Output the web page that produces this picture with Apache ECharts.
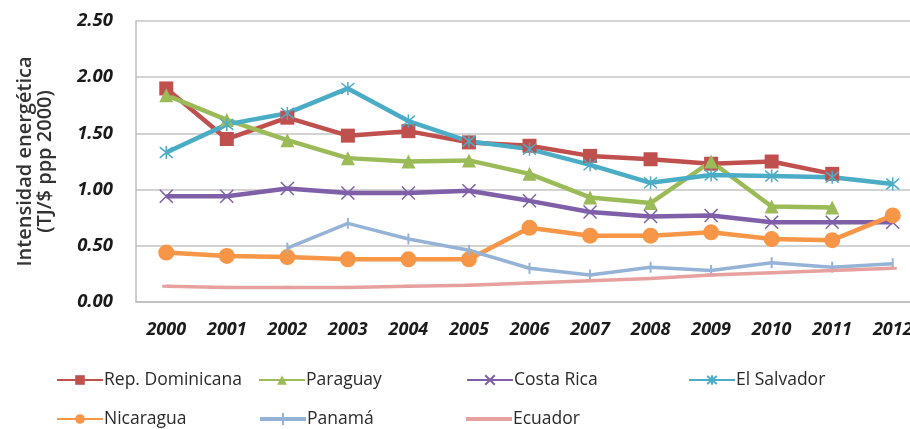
<!DOCTYPE html>
<html><head><meta charset="utf-8">
<script src="https://cdn.jsdelivr.net/npm/echarts@6/dist/echarts.min.js"></script>
<style>html,body{margin:0;padding:0;background:#fff}#c{width:910px;height:429px}</style>
</head><body><div id="c"></div>
<script>
const years = ['2000','2001','2002','2003','2004','2005','2006','2007','2008','2009','2010','2011','2012'];
const yTicks = [0, 0.5, 1, 1.5, 2, 2.5];
const repDominicana = [1.90,1.45,1.64,1.48,1.52,1.42,1.39,1.30,1.27,1.23,1.25,1.14,null];
const paraguay      = [1.84,1.62,1.44,1.28,1.25,1.26,1.14,0.93,0.88,1.25,0.85,0.84,null];
const costaRica     = [0.94,0.94,1.01,0.97,0.97,0.99,0.90,0.80,0.76,0.77,0.71,0.71,0.71];
const elSalvador    = [1.33,1.58,1.68,1.90,1.61,1.43,1.36,1.22,1.06,1.13,1.12,1.11,1.05];
const nicaragua     = [0.44,0.41,0.40,0.38,0.38,0.38,0.66,0.59,0.59,0.62,0.56,0.55,0.77];
const panama        = [null,null,0.48,0.70,0.56,0.46,0.30,0.24,0.31,0.28,0.35,0.31,0.34];
const ecuador       = [0.14,0.13,0.13,0.13,0.14,0.15,0.17,0.19,0.21,0.24,0.26,0.28,0.30];
const names = ['Rep. Dominicana','Paraguay','Costa Rica','El Salvador','Nicaragua','Panamá','Ecuador'];

const X_PATH = 'path://M0,0 L10,10 M10,0 L0,10';
const STAR_PATH = 'path://M0,0 L10,10 M10,0 L0,10 M5,-1 L5,11';
const LEG_TICK = 'path://M0,4 L46,4 L46,8 L0,8 Z M22,0 L24,0 L24,12 L22,12 Z';
const LEG_PLAIN = 'path://M0,0 L0.01,0 L0.01,0.01 Z M0,4 L46,4 L46,8 L0,8 Z M0,12 L0.01,12 L0.01,11.99 Z';

function mk(name, data, color, symbol, size, width, strokeSym) {
  return {
    name, type: 'line', data, connectNulls: false,
    symbol, symbolSize: size, showSymbol: true,
    lineStyle: {color, width},
    itemStyle: strokeSym ? {color: color, borderColor: color, borderWidth: 1.5} : {color, borderWidth: 0},
    emphasis: {disabled: true}, animation: false
  };
}
const series = [
  mk(names[0], repDominicana, '#C0504D', 'rect', 14, 4.5, false),
  mk(names[1], paraguay, '#9BBB59', 'triangle', 14, 4.5, false),
  mk(names[2], costaRica, '#7F5FA8', X_PATH, 13, 4.5, true),
  mk(names[3], elSalvador, '#4BACC6', STAR_PATH, 13, 4.5, true),
  mk(names[4], nicaragua, '#F79646', 'circle', 16, 4.5, false),
  mk(names[5], panama, '#95B3D7', 'rect', [2, 11], 3.5, false),
  mk(names[6], ecuador, '#E6A09E', 'rect', [8, 3], 3.5, false)
];

const legendPos = [[56,371],[258,371],[466,371],[688,371],[56,410],[260,410],[466,410]];
const legendIcons = [null, null, null, null, null, LEG_TICK, LEG_PLAIN];
const legends = names.map((n,i)=>({
  data:[legendIcons[i] ? {name: n, icon: legendIcons[i]} : n], left: legendPos[i][0], top: legendPos[i][1],
  itemWidth: 46, itemHeight: 12, itemGap: 2, padding: 0,
  textStyle: {fontFamily: 'Open Sans', fontSize: 17.5, color: '#2a2a2a', padding:[0,0,0,-4]},
  selectedMode: false
}));

const chart = echarts.init(document.getElementById('c'), null, {renderer: 'canvas'});
chart.setOption({
  animation: false,
  grid: {left: 136, top: 21, width: 787, bottom: 127, containLabel: false, outerBoundsMode: 'none'},
  legend: legends,
  xAxis: {
    type: 'category', data: years, boundaryGap: true,
    axisLine: {lineStyle: {color: '#bdbdbd', width: 1.5}},
    axisTick: {show: false},
    axisLabel: {fontFamily: 'Open Sans', fontWeight: 'bold', fontStyle: 'italic', fontSize: 18, color: '#1a1a1a', margin: 19}
  },
  yAxis: {
    type: 'value', min: 0, max: 2.5, interval: 0.5,
    name: 'Intensidad energética\n(TJ/$ ppp 2000)', nameLocation: 'middle', nameGap: 81, nameRotate: 90,
    nameTextStyle: {fontFamily: 'Open Sans', fontWeight: 600, fontSize: 20, color: '#333', lineHeight: 20},
    axisLine: {show: true, lineStyle: {color: '#bdbdbd', width: 1.5}},
    axisTick: {show: false},
    splitLine: {lineStyle: {color: '#c4c4c4', width: 1.5}},
    axisLabel: {fontFamily: 'Open Sans', fontWeight: 'bold', fontStyle: 'italic', fontSize: 18.5, color: '#1a1a1a', margin: 23,
      formatter: v => yTicks.includes(v) ? v.toFixed(2) : ''}
  },
  series
});
</script></body></html>
